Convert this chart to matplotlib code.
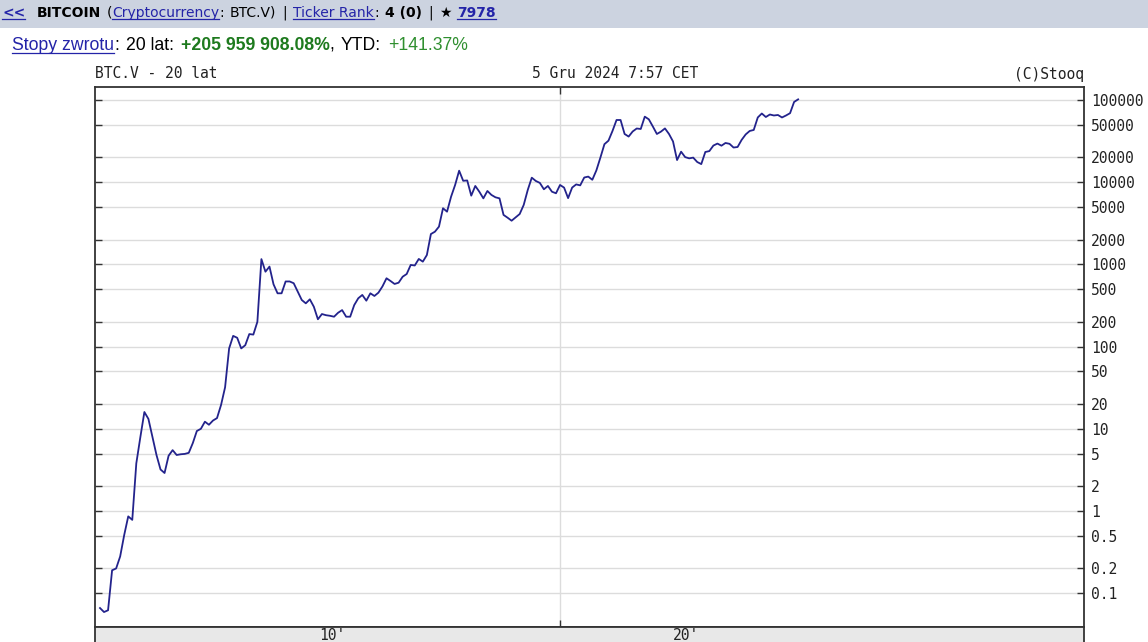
import matplotlib
matplotlib.use("Agg")
import matplotlib.pyplot as plt
from matplotlib.lines import Line2D
from matplotlib.patches import Rectangle

# miesieczne zamkniecia BTC.V, od lipca 2010 do grudnia 2024
start_year, start_month = 2010, 7
closes = [
    # 2010 (lip - gru)
    0.066, 0.059, 0.062, 0.19, 0.20, 0.28,
    # 2011
    0.51, 0.86, 0.78, 3.8, 7.9, 16.0, 13.2, 8.0, 4.8, 3.2, 2.9, 4.7,
    # 2012
    5.5, 4.8, 4.9, 4.95, 5.1, 6.7, 9.4, 10.0, 12.2, 11.2, 12.6, 13.5,
    # 2013
    19.5, 32, 95, 135, 128, 95, 104, 142, 140, 200, 1160, 815,
    # 2014
    940, 573, 445, 445, 620, 620, 590, 466, 369, 336, 376, 305,
    # 2015
    215, 249, 241, 237, 231, 258, 278, 231, 231, 320, 387, 425,
    # 2016
    362, 445, 413, 453, 540, 678, 628, 578, 599, 708, 764, 985,
    # 2017
    970, 1165, 1080, 1300, 2340, 2500, 2880, 4820, 4380, 6660, 9250, 13800,
    # 2018
    10400, 10500, 6860, 9000, 7660, 6360, 7820, 7000, 6550, 6360, 4000, 3700,
    # 2019
    3400, 3740, 4100, 5290, 8040, 11350, 10350, 9800, 8200, 9000, 7660, 7330,
    # 2020
    9250, 8600, 6400, 8600, 9400, 9150, 11400, 11700, 10700, 13900, 19900, 29000,
    # 2021
    32000, 42000, 57100, 57100, 38600, 35900, 41400, 45000, 44400, 62700, 58200, 47600,
    # 2022
    38600, 41200, 45100, 38600, 31300, 18600, 23500, 20200, 19500, 19900, 17600, 16600,
    # 2023
    23300, 23900, 27900, 29500, 27800, 30000, 29300, 26400, 26800, 32700, 38100, 42000,
    # 2024
    43200, 61300, 68500, 62100, 66600, 64800, 65700, 61300, 64800, 69100, 94600, 101800,
]
dates = [start_year + (start_month - 1 + i) / 12 for i in range(len(closes))]

y_ticks = [0.1, 0.2, 0.5, 1, 2, 5, 10, 20, 50, 100, 200, 500, 1000, 2000,
           5000, 10000, 20000, 50000, 100000]
y_labels = ["0.1", "0.2", "0.5", "1", "2", "5", "10", "20", "50", "100", "200",
            "500", "1000", "2000", "5000", "10000", "20000", "50000", "100000"]
x_divider = 2020
x_labels = ["10'", "20'"]
x_label_pos = [2015.3, 2022.6]

W, H = 1148, 642
LINK = "#2424a8"
GREEN_B = "#1e7a1e"
GREEN = "#2f8f2f"
MONO = "DejaVu Sans Mono"

fig = plt.figure(figsize=(W / 100, H / 100), dpi=100)
fig.patch.set_facecolor("white")


def fx(px):
    return px / W


def fy(py):
    return 1 - py / H


# --- pasek naglowka ---
fig.add_artist(Rectangle((0, fy(28)), 1, 28 / H, transform=fig.transFigure,
                         facecolor="#ccd3e0", edgecolor="none", zorder=0))

renderer = fig.canvas.get_renderer()


def width_of(txt, size, family, weight):
    t = fig.text(0, 0, txt, fontsize=size, family=family, weight=weight)
    w = t.get_window_extent(renderer=renderer).width
    t.remove()
    return w


def line_of_runs(x, y, runs, size, family, space_scale=1.4):
    """Pisze kolejne kawalki tekstu jeden za drugim (gap = ile spacji przed kawalkiem)."""
    space = width_of("x x", size, family, "normal") - width_of("xx", size, family, "normal")
    space *= space_scale
    for txt, color, bold, underline, gap in runs:
        x += gap * space
        t = fig.text(fx(x), fy(y), txt, color=color, fontsize=size, family=family,
                     weight="bold" if bold else "normal", ha="left", va="center")
        bb = t.get_window_extent(renderer=renderer)
        if underline:
            uy = bb.y0 + 1
            fig.add_artist(Line2D([bb.x0 / W, bb.x1 / W], [uy / H, uy / H],
                                  transform=fig.transFigure, color=color, lw=0.9))
        x = bb.x1


# (tekst, kolor, pogrubienie, podkreslenie, spacje przed)
line_of_runs(2, 13, [
    ("<<", LINK, True, True, 0),
    ("BITCOIN", "black", True, False, 1.8),
    ("(", "black", False, False, 1),
    ("Cryptocurrency", LINK, False, True, 0),
    (":", "black", False, False, 0),
    ("BTC.V)", "black", False, False, 1),
    ("|", "black", False, False, 1),
    ("Ticker Rank", LINK, False, True, 1),
    (":", "black", False, False, 0),
    ("4 (0)", "black", True, False, 1),
    ("|", "black", False, False, 1),
    ("\u2605", "black", False, False, 1),
    ("7978", LINK, True, True, 1),
], 10.0, "DejaVu Sans")

line_of_runs(12, 45, [
    ("Stopy zwrotu", LINK, False, True, 0),
    (":", "black", False, False, 0),
    ("20 lat:", "black", False, False, 1),
    ("+205 959 908.08%", GREEN_B, True, False, 1),
    (",", "black", False, False, 0),
    ("YTD:", "black", False, False, 1),
    ("+141.37%", GREEN, False, False, 1),
], 12.7, "Liberation Sans")

# --- wykres ---
left, right = fx(95), fx(1084)
ax = fig.add_axes([left, fy(627), right - left, (627 - 87) / H])
ax.plot(dates, closes, color="#23238c", lw=1.3, zorder=3)
ax.set_yscale("log")
ax.set_ylim(0.0388, 143900)
ax.set_xlim(2010.397, 2030.82)

ax.set_yticks(y_ticks)
ax.set_yticklabels(y_labels, family=MONO, fontsize=10.5, color="#222222")
ax.yaxis.set_minor_locator(matplotlib.ticker.NullLocator())
ax.set_xticks([x_divider])
ax.set_xticklabels([])
ax.tick_params(axis="y", which="both", direction="in", left=True, right=True,
               labelleft=False, labelright=True, length=5, width=1, pad=5, color="#333333")
ax.tick_params(axis="x", direction="in", top=True, bottom=True, length=5, width=1,
               color="#333333")
ax.grid(True, axis="both", color="#dcdcdc", lw=1)
ax.set_axisbelow(True)
for sp in ax.spines.values():
    sp.set_color("#333333")
    sp.set_linewidth(1.3)

ax.text(0, 1.0 + 13 / 540, "BTC.V - 20 lat", transform=ax.transAxes, family=MONO,
        fontsize=10.5, ha="left", va="center", color="#222222")
ax.text(fx(615 - 95) / (right - left), 1.0 + 13 / 540, "5 Gru 2024 7:57 CET",
        transform=ax.transAxes, family=MONO, fontsize=10.5, ha="center", va="center",
        color="#222222")
ax.text(1, 1.0 + 13 / 540, "(C)Stooq", transform=ax.transAxes, family=MONO,
        fontsize=10.5, ha="right", va="center", color="#222222")

# --- dolny pasek z etykietami ---
band = fig.add_axes([left, 0, right - left, fy(627)], sharex=ax)
band.set_facecolor("#e8e8e8")
band.set_yticks([])
band.tick_params(axis="x", bottom=False, top=False, labelbottom=False)
band.spines["bottom"].set_visible(False)
for k in ("top", "left", "right"):
    band.spines[k].set_color("#333333")
    band.spines[k].set_linewidth(1.3)
for lab, pos in zip(x_labels, x_label_pos):
    band.text(pos, 0.45, lab, family=MONO, fontsize=10.5, ha="center", va="center",
              color="#222222", transform=band.get_xaxis_transform())

fig.savefig("out.png", dpi=100)
